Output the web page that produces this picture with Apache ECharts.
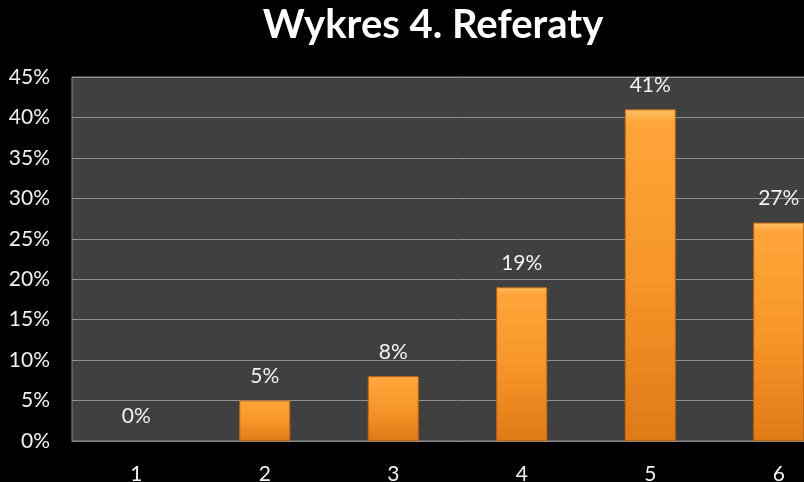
<!DOCTYPE html>
<html>
<head>
<meta charset="utf-8">
<script src="https://cdn.jsdelivr.net/npm/echarts@6/dist/echarts.min.js"></script>
<style>
html, body { margin: 0; padding: 0; background: #000; overflow: hidden; }
#chart { width: 843px; height: 482px; }
</style>
</head>
<body>
<div id="chart"></div>
<script>
// Wykres 4. Referaty
var categories = ['1', '2', '3', '4', '5', '6'];
var values = [0, 5, 8, 19, 41, 27];
var yTicks = [0, 5, 10, 15, 20, 25, 30, 35, 40, 45];

var myChart = echarts.init(document.getElementById('chart'));

var barColor = new echarts.graphic.LinearGradient(0, 0, 0, 1, [
    { offset: 0, color: '#ffc36a' },
    { offset: 0.04, color: '#ffa53a' },
    { offset: 0.5, color: '#f7962a' },
    { offset: 1, color: '#e07a16' }
]);

// 0% bar draws no outline
var barData = values.map(function (v) {
    return v === 0 ? { value: v, itemStyle: { borderWidth: 0 } } : v;
});

var option = {
    backgroundColor: '#000',
    title: {
        text: 'Wykres 4. Referaty',
        left: 428,
        top: 0,
        textAlign: 'center',
        textStyle: {
            color: '#fff',
            fontSize: 40,
            fontWeight: 'bold',
            fontFamily: 'Lato'
        }
    },
    grid: {
        left: 72,
        top: 77,
        right: 0,
        height: 364,
        outerBoundsMode: 'none',
        show: true,
        backgroundColor: '#404040',
        borderColor: '#8a8a8a',
        borderWidth: 1
    },
    xAxis: {
        type: 'category',
        data: categories,
        axisLine: { lineStyle: { color: '#8a8a8a' } },
        axisTick: { show: false },
        axisLabel: {
            color: '#f2f2f2',
            fontSize: 21,
            fontFamily: 'Lato',
            margin: 23
        }
    },
    yAxis: {
        type: 'value',
        min: 0,
        max: 45,
        interval: 5,
        axisLine: { show: false },
        axisTick: { show: false },
        splitLine: { lineStyle: { color: '#8f8f8f', width: 1 } },
        axisLabel: {
            color: '#f2f2f2',
            fontSize: 21,
            fontFamily: 'Lato',
            margin: 22,
            formatter: function (v) {
                return yTicks.indexOf(v) >= 0 ? v + '%' : '';
            }
        }
    },
    series: [{
        type: 'bar',
        data: barData,
        barWidth: 51,
        itemStyle: {
            color: barColor,
            borderColor: '#c8660c',
            borderWidth: 1
        },
        label: {
            show: true,
            position: 'top',
            distance: 14,
            color: '#f2f2f2',
            fontSize: 21,
            fontFamily: 'Lato',
            formatter: '{c}%'
        }
    }]
};

myChart.setOption(option);
</script>
</body>
</html>
